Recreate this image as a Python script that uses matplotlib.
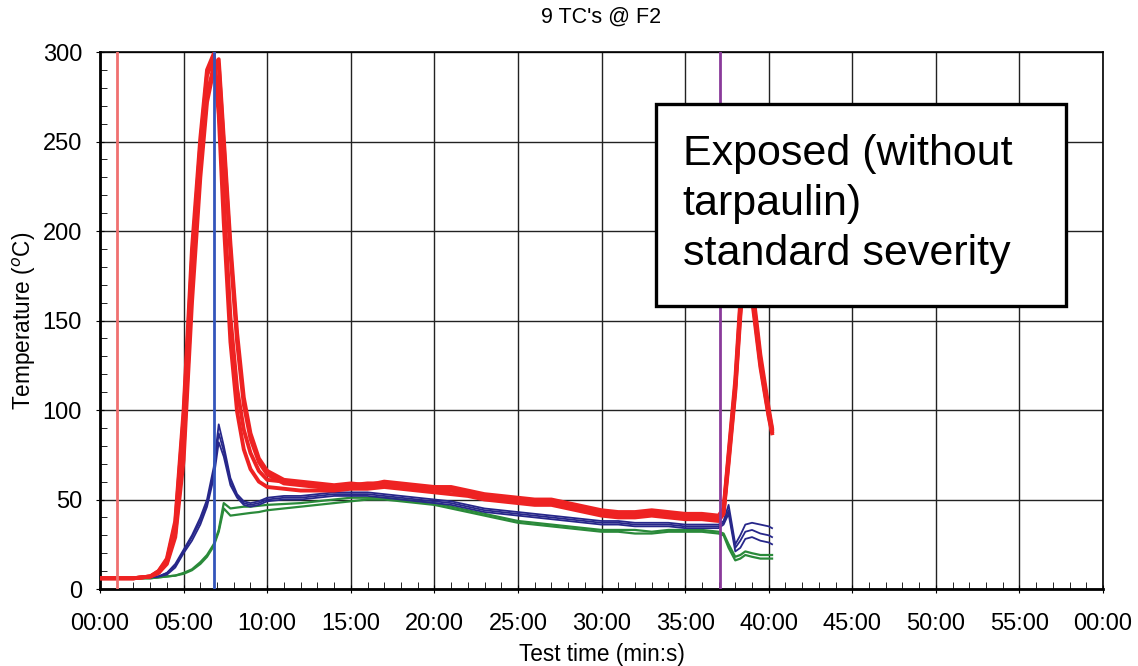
import matplotlib
matplotlib.use("Agg")
import matplotlib.pyplot as plt
from matplotlib.ticker import MultipleLocator, FuncFormatter
from matplotlib.patches import Rectangle

plt.rcParams['font.family'] = ['Liberation Sans', 'DejaVu Sans']

# time (min) shared by all 9 thermocouples
t_min = [0, 1, 2, 3, 3.5, 4, 4.5, 5, 5.5, 6, 6.4, 6.8, 7.1, 7.4, 7.8, 8.2, 8.6, 9, 9.5, 10,
         11, 12, 13, 14, 15, 16, 17, 18, 19, 20, 21, 22, 23, 24, 25, 26, 27, 28, 29, 30,
         31, 32, 33, 34, 35, 36, 37, 37.3, 37.6, 38, 38.3, 38.6, 39, 39.5, 40, 40.2]

# red TCs
red1 = [6, 6, 6, 7, 10, 17, 38, 100, 190, 252, 290, 299, 272, 218, 152, 112, 89, 76, 66, 61,
        60, 59, 58, 57, 58, 59, 59, 58, 57, 57, 56, 54, 52, 51, 50, 49, 49, 47, 45, 43,
        42, 42, 43, 42, 41, 41, 40, 44, 74, 114, 158, 192, 168, 128, 99, 89]
red2 = [6, 6, 6, 7, 9, 15, 31, 78, 168, 236, 276, 292, 296, 252, 193, 143, 107, 87, 73, 66,
        61, 60, 59, 58, 59, 58, 60, 59, 58, 57, 57, 55, 53, 52, 51, 50, 50, 48, 46, 44,
        43, 43, 44, 43, 42, 42, 41, 45, 76, 117, 161, 196, 171, 131, 101, 90]
red3 = [6, 6, 6, 7, 9, 14, 29, 72, 160, 230, 272, 290, 293, 248, 188, 138, 103, 84, 71, 64,
        59, 58, 57, 56, 57, 57, 58, 57, 56, 55, 55, 53, 51, 50, 49, 48, 48, 46, 44, 42,
        41, 41, 42, 41, 40, 40, 39, 43, 72, 112, 155, 188, 165, 126, 97, 88]
red4 = [6, 6, 6, 7, 10, 16, 36, 96, 184, 248, 287, 296, 265, 205, 138, 99, 78, 67, 60, 57,
        56, 55, 55, 55, 56, 56, 57, 56, 55, 54, 53, 52, 50, 49, 48, 47, 47, 45, 43, 41,
        40, 40, 41, 40, 39, 39, 38, 42, 70, 110, 152, 185, 162, 124, 96, 87]

# blue TCs
blue1 = [6, 6, 6, 6.5, 7, 9, 14, 22, 30, 40, 50, 68, 92, 80, 62, 53, 49, 48, 49, 51,
         52, 52, 53, 54, 54, 54, 53, 52, 51, 50, 49, 47, 45, 44, 43, 42, 41, 40, 39, 38,
         38, 37, 37, 37, 36, 36, 36, 38, 47, 25, 30, 36, 37, 36, 35, 34]
blue2 = [6, 6, 6, 6.5, 7, 9, 13, 21, 29, 38, 48, 65, 87, 77, 60, 52, 48, 47, 48, 50,
         51, 51, 52, 53, 53, 53, 52, 51, 50, 49, 48, 46, 44, 43, 42, 41, 40, 39, 38, 37,
         37, 36, 36, 36, 35, 35, 35, 37, 44, 23, 27, 32, 33, 31, 30, 29]
blue3 = [6, 6, 6, 6.5, 7, 8, 12, 20, 27, 36, 46, 62, 82, 74, 58, 51, 47, 46, 47, 49,
         50, 50, 51, 52, 52, 52, 51, 50, 49, 48, 47, 45, 43, 42, 41, 40, 39, 38, 37, 36,
         36, 35, 35, 35, 34, 34, 34, 36, 42, 21, 23, 28, 29, 27, 26, 25]

# green TCs
green1 = [6, 6, 6, 6, 6.5, 7, 7.5, 9, 11, 15, 19, 25, 33, 48, 45, 45.5, 46, 46, 46.5, 47,
          47.5, 48, 49, 50, 51, 51, 51, 50, 49, 48, 46, 44, 42, 40, 38, 37, 36, 35, 34, 33,
          33, 33, 32, 33, 33, 33, 32, 31, 25, 18, 19, 21, 20, 19, 19, 19]
green2 = [6, 6, 6, 6, 6.5, 7, 7.5, 8.5, 10.5, 14, 18, 24, 32, 45, 41, 41.5, 42, 42.5, 43, 44,
          45, 46, 47, 48, 49, 50, 50, 49, 48, 47, 45, 43, 41, 39, 37, 36, 35, 34, 33, 32,
          32, 31, 31, 32, 32, 32, 31, 30, 23, 16, 17, 19, 18, 17, 17, 17]

# event markers (min)
marker_times = [1.02, 6.82, 37.1]
marker_colors = ['#f07070', '#3355bb', '#8a3a9a']

fig = plt.figure(figsize=(11.38, 6.66), dpi=100)
ax = fig.add_axes([0.0879, 0.1156, 0.8814, 0.8063])

for y in (green1, green2):
    ax.plot(t_min, y, color='#2a8a3a', linewidth=1.6, zorder=3)
for y in (blue1, blue2, blue3):
    ax.plot(t_min, y, color='#27278a', linewidth=1.3, zorder=4)
for y in (red1, red2, red3, red4):
    ax.plot(t_min, y, color='#ee2222', linewidth=2.8, zorder=5)

for xm, c in zip(marker_times, marker_colors):
    ax.axvline(xm, color=c, linewidth=2, zorder=6)

ax.set_xlim(0, 60)
ax.set_ylim(0, 300)
ax.xaxis.set_major_locator(MultipleLocator(5))
ax.xaxis.set_minor_locator(MultipleLocator(1))
ax.yaxis.set_major_locator(MultipleLocator(50))
ax.yaxis.set_minor_locator(MultipleLocator(10))
ax.xaxis.set_major_formatter(FuncFormatter(lambda v, p: "%02d:00" % (int(round(v)) % 60)))
ax.grid(True, which='major', color='#222222', linewidth=1)
ax.tick_params(which='major', direction='inout', length=6, labelsize=17, pad=10)
ax.tick_params(which='minor', direction='in', length=5)
ax.tick_params(axis='x', pad=14)
for s in ax.spines.values():
    s.set_linewidth(1.2)
ax.spines['left'].set_linewidth(2)
ax.spines['bottom'].set_linewidth(2)

ax.set_title("9 TC's @ F2", fontsize=15.5, pad=21)
ax.set_xlabel("Test time (min:s)", fontsize=16.3, labelpad=6)
ax.set_ylabel("Temperature ($^{o}$C)", fontsize=16.3, labelpad=3)

box = Rectangle((0.554, 0.527), 0.409, 0.376, transform=ax.transAxes,
                facecolor='white', edgecolor='black', linewidth=2.4, zorder=10)
ax.add_patch(box)
ax.text(0.581, 0.848, "Exposed (without\ntarpaulin)\nstandard severity",
        transform=ax.transAxes, fontsize=31, va='top', ha='left',
        linespacing=1.33, zorder=11)

plt.savefig("out.png")
